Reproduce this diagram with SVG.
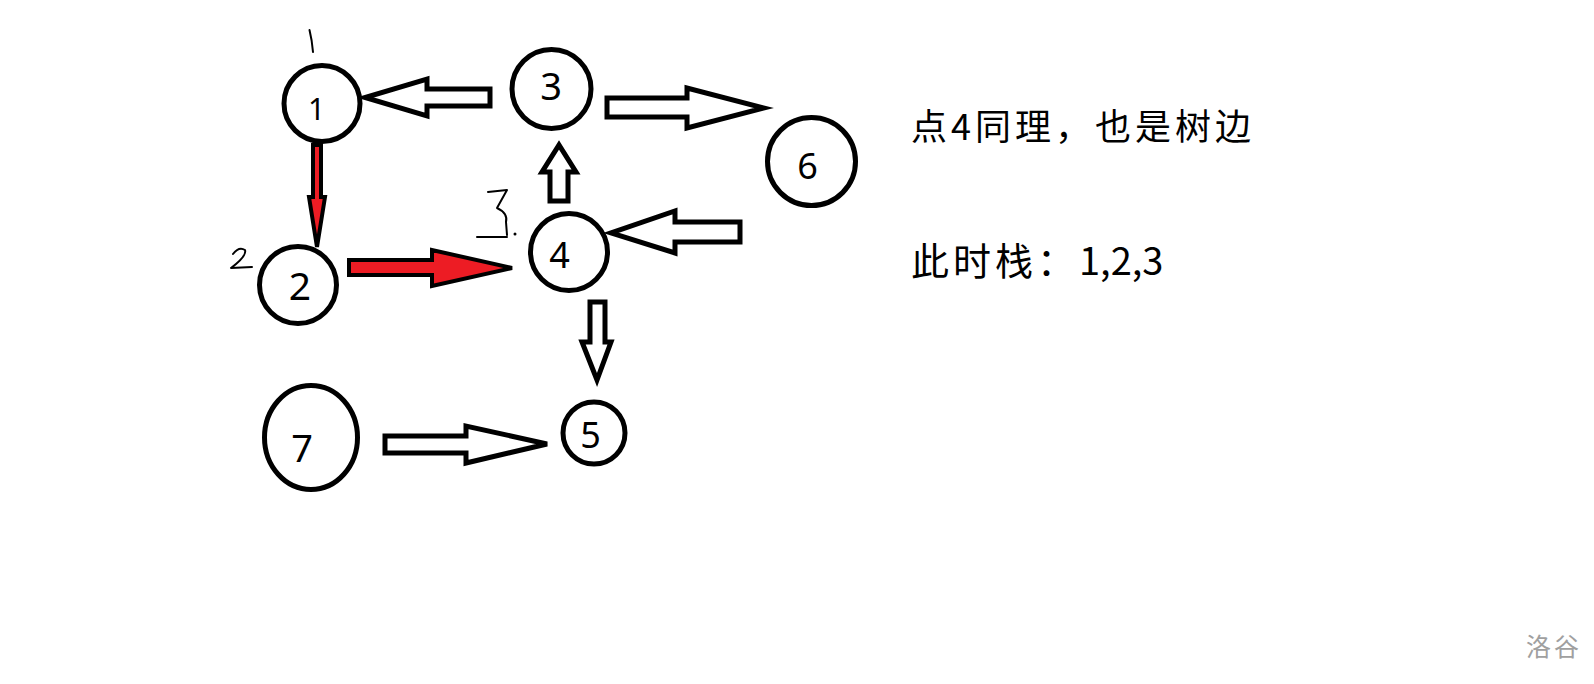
<svg xmlns="http://www.w3.org/2000/svg" width="1594" height="684" viewBox="0 0 1594 684">
<style>
.node{fill:#fff;stroke:#000;stroke-width:5}
.lbl{font-family:"Noto Sans","Open Sans",sans-serif;fill:#000;text-anchor:middle}
.arr{fill:#fff;stroke:#000;stroke-width:5;stroke-linejoin:miter}
.red{fill:#ed1c24;stroke:#000;stroke-width:4;stroke-linejoin:miter}
.ink{fill:none;stroke:#000;stroke-width:2;stroke-linecap:round;stroke-linejoin:round}
.note{font-family:"Noto Sans CJK SC","Noto Sans",sans-serif;fill:#000}
.wm{font-family:"Noto Sans CJK SC","Noto Sans",sans-serif;fill:#a0a0a0}
</style>
<rect width="1594" height="684" fill="#fff"/>
<g id="connectors">
<polygon class="arr" points="490,89 427,89 427,79 365,97.5 427,116 427,106 490,106"/>
<polygon class="arr" points="607,98 687,98 687,88 764,108 687,128 687,117 607,117"/>
<polygon class="arr" points="550,201 550,172 542,172 559,145 576,172 568,172 568,201"/>
<polygon class="arr" points="740,222 675,222 675,211 611,233 675,253 675,242 740,242"/>
<polygon class="arr" points="590,302 605,302 605,342 611,342 597,380 582,342 590,342"/>
<polygon class="arr" points="385,436 466,436 466,426 547,444 466,463 466,453 385,453"/>
<polygon class="red" points="349,260 432,260 432,250 512,268 432,286 432,275 349,275"/>
<polygon class="red" points="313,145 321,145 321,197 325,197 317,247 309,197 313,197"/>
</g>
<g id="node1"><circle class="node" cx="322" cy="103.5" r="38"/><text class="lbl" x="316.5" y="120" font-size="30">1</text></g>
<g id="node2"><circle class="node" cx="298" cy="285" r="38.5"/><text class="lbl" x="300" y="300" font-size="39">2</text></g>
<g id="node3"><circle class="node" cx="551.5" cy="89" r="39.5"/><text class="lbl" x="551" y="100" font-size="38">3</text></g>
<g id="node4"><circle class="node" cx="569" cy="252" r="38.5"/><text class="lbl" x="559.5" y="268" font-size="36">4</text></g>
<g id="node5"><circle class="node" cx="594" cy="433" r="31"/><text class="lbl" x="590.5" y="448" font-size="36">5</text></g>
<g id="node6"><circle class="node" cx="811.5" cy="161.5" r="44"/><text class="lbl" x="807.5" y="179" font-size="36">6</text></g>
<g id="node7"><ellipse class="node" cx="311" cy="437.5" rx="46.5" ry="52"/><text class="lbl" x="302" y="462" font-size="38">7</text></g>
<g id="annotations">
<path class="ink" d="M309.5,30 Q312,40 313,52"/>
<path class="ink" d="M233,254 Q239,246 245,250 Q247,256 231,268 L252,267"/>
<path class="ink" d="M488,192 L507,190 L497,208 Q508,213 506,222 L507,235 M477,237 L507,237"/>
<circle cx="515" cy="234" r="1.5" fill="#000"/>
</g>
<g id="notes">
<text class="note" x="911" y="140" font-size="36" letter-spacing="4">点4同理，也是树边</text>
<text class="note" x="911" y="275" font-size="38" letter-spacing="4">此时栈：<tspan letter-spacing="0">1,2,3</tspan></text>
<text class="wm" x="1526" y="656" font-size="25" letter-spacing="3">洛谷</text>
</g>
</svg>
